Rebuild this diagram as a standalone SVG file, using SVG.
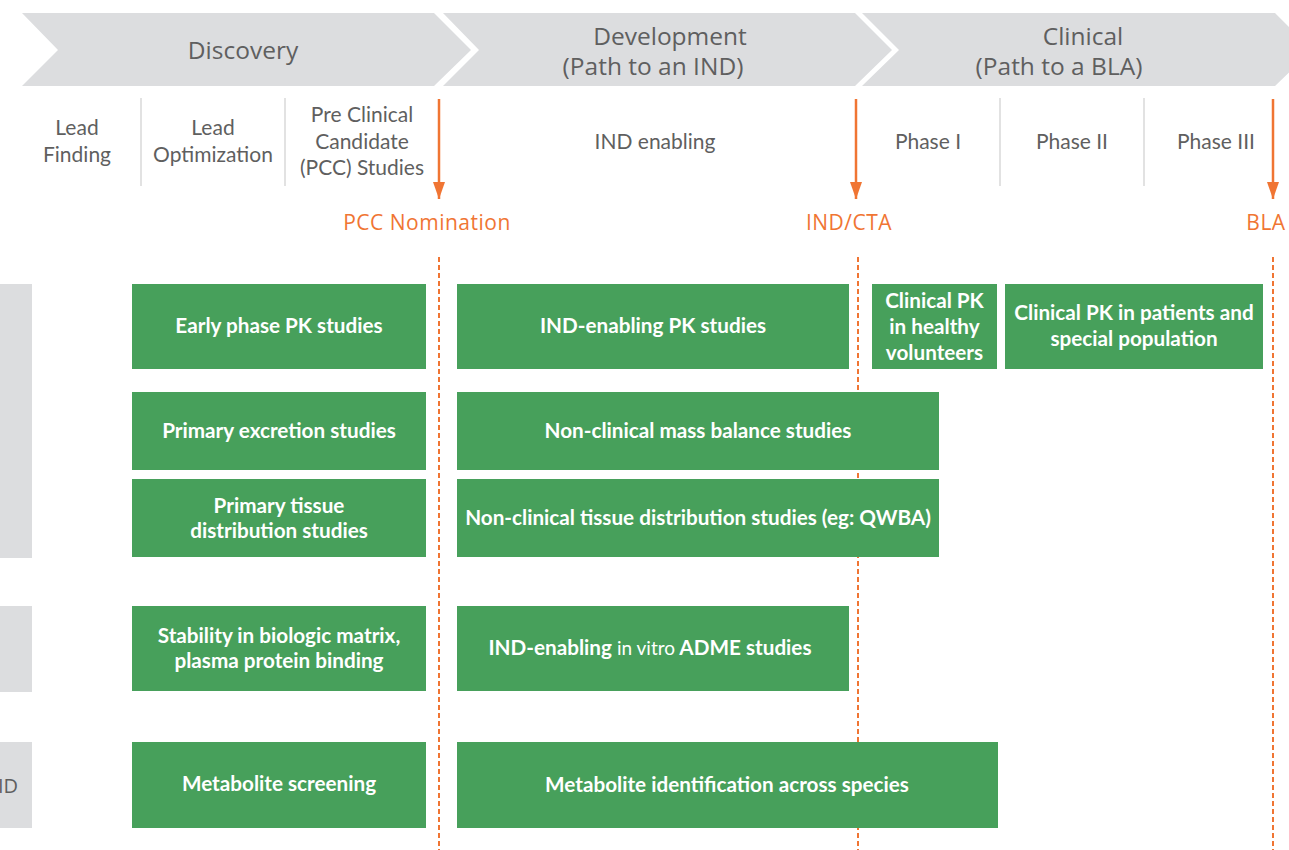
<svg xmlns="http://www.w3.org/2000/svg" width="1289" height="850" viewBox="0 0 1289 850">
<defs>
<marker id="ah" markerUnits="userSpaceOnUse" markerWidth="18" markerHeight="14" refX="17" refY="7" orient="auto" viewBox="0 0 18 14">
<path d="M0,1 L17,7 L0,13 Z" fill="#f07533"/>
</marker>
<style>
.chev{fill:#dcdddf}
.hd{font-family:"Open Sans","Liberation Sans",sans-serif;font-size:24.5px;fill:#5f5f5f;text-anchor:middle;dominant-baseline:central}
.sub{font-family:Lato,"Liberation Sans",sans-serif;font-size:21px;fill:#5f5f5f;text-anchor:middle;dominant-baseline:central}
.div{stroke:#d9d9d9;stroke-width:1.5}
.ms{font-family:"Open Sans","Liberation Sans",sans-serif;font-size:21px;letter-spacing:0.5px;fill:#f07533;text-anchor:middle;dominant-baseline:central}
.arr{stroke:#f07533;stroke-width:2.5;fill:none}
.dash{stroke:#f07533;stroke-width:2;stroke-dasharray:5 3;fill:none}
.gbar{fill:#dcdddf}
.box{fill:#47a05b}
.bt{font-family:Lato,"Liberation Sans",sans-serif;font-weight:bold;font-size:20.7px;fill:#ffffff;text-anchor:middle;dominant-baseline:central}
.it{font-weight:normal;font-size:19px}
.side{font-family:"Open Sans","Liberation Sans",sans-serif;font-size:20px;fill:#5f5f5f;text-anchor:end;dominant-baseline:central}
</style>
</defs>
<rect width="1289" height="850" fill="#ffffff"/>

<g id="header-discovery">
<polygon class="chev" points="22,13 434,13 471,50 434,86 22,86 58,50"/>
<text class="hd" x="243" y="49">Discovery</text>
</g>
<g id="header-development">
<polygon class="chev" points="443,13 855,13 892,50 855,86 443,86 479,50"/>
<text class="hd" x="670" y="35">Development</text>
<text class="hd" x="653" y="65">(Path to an IND)</text>
</g>
<g id="header-clinical">
<polygon class="chev" points="862,13 1275,13 1312,50 1275,86 862,86 899,50"/>
<text class="hd" x="1083" y="35">Clinical</text>
<text class="hd" x="1059" y="65">(Path to a BLA)</text>
</g>

<g id="stages">
<line class="div" x1="141" y1="98" x2="141" y2="186"/>
<line class="div" x1="285" y1="98" x2="285" y2="186"/>
<line class="div" x1="1000" y1="98" x2="1000" y2="186"/>
<line class="div" x1="1144" y1="98" x2="1144" y2="186"/>
<text class="sub" x="77" y="126">Lead</text>
<text class="sub" x="77" y="153">Finding</text>
<text class="sub" x="213" y="126">Lead</text>
<text class="sub" x="213" y="153">Optimization</text>
<text class="sub" x="362" y="113">Pre Clinical</text>
<text class="sub" x="362" y="140">Candidate</text>
<text class="sub" x="362" y="166">(PCC) Studies</text>
<text class="sub" x="655" y="140">IND enabling</text>
<text class="sub" x="928" y="140">Phase I</text>
<text class="sub" x="1072" y="140">Phase II</text>
<text class="sub" x="1216" y="140">Phase III</text>
</g>

<g id="milestones">
<text class="ms" x="427" y="222">PCC Nomination</text>
<text class="ms" x="849" y="222">IND/CTA</text>
<text class="ms" x="1266" y="222">BLA</text>
</g>

<g id="connectors">
<line class="arr" x1="439" y1="99" x2="439" y2="199" marker-end="url(#ah)"/>
<line class="arr" x1="856" y1="99" x2="856" y2="199" marker-end="url(#ah)"/>
<line class="arr" x1="1273" y1="99" x2="1273" y2="199" marker-end="url(#ah)"/>
<line class="dash" x1="439" y1="257" x2="439" y2="850"/>
<line class="dash" x1="858" y1="257" x2="858" y2="850"/>
<line class="dash" x1="1273" y1="257" x2="1273" y2="850"/>
</g>

<g id="side-bars">
<rect class="gbar" x="0" y="284" width="32" height="274"/>
<rect class="gbar" x="0" y="606" width="32" height="86"/>
<rect class="gbar" x="0" y="742" width="32" height="86"/>
<text class="side" x="18" y="785">ID</text>
</g>

<g id="early-pk"><rect class="box" x="132" y="284" width="294" height="85"/><text class="bt" x="279" y="325">Early phase PK studies</text></g>
<g id="ind-pk"><rect class="box" x="457" y="284" width="392" height="85"/><text class="bt" x="653" y="325">IND-enabling PK studies</text></g>
<g id="clin-pk-healthy"><rect class="box" x="872" y="284" width="125" height="85"/><text class="bt" x="934.5" y="300">Clinical PK</text><text class="bt" x="934.5" y="326">in healthy</text><text class="bt" x="934.5" y="352">volunteers</text></g>
<g id="clin-pk-patients"><rect class="box" x="1005" y="284" width="258" height="85"/><text class="bt" x="1134" y="312">Clinical PK in patients and</text><text class="bt" x="1134" y="338">special population</text></g>

<g id="primary-excretion"><rect class="box" x="132" y="392" width="294" height="78"/><text class="bt" x="279" y="430">Primary excretion studies</text></g>
<g id="mass-balance"><rect class="box" x="457" y="392" width="482" height="78"/><text class="bt" x="698" y="430">Non-clinical mass balance studies</text></g>

<g id="primary-tissue"><rect class="box" x="132" y="479" width="294" height="78"/><text class="bt" x="279" y="505">Primary tissue</text><text class="bt" x="279" y="530">distribution studies</text></g>
<g id="tissue-dist"><rect class="box" x="457" y="479" width="482" height="78"/><text class="bt" x="698" y="517">Non-clinical tissue distribution studies (eg: QWBA)</text></g>

<g id="stability"><rect class="box" x="132" y="606" width="294" height="85"/><text class="bt" x="279" y="635">Stability in biologic matrix,</text><text class="bt" x="279" y="660">plasma protein binding</text></g>
<g id="in-vitro-adme"><rect class="box" x="457" y="606" width="392" height="85"/><text class="bt" x="650" y="647">IND-enabling <tspan class="it">in vitro</tspan> ADME studies</text></g>

<g id="metabolite-screening"><rect class="box" x="132" y="742" width="294" height="86"/><text class="bt" x="279" y="783">Metabolite screening</text></g>
<g id="metabolite-id"><rect class="box" x="457" y="742" width="541" height="86"/><text class="bt" x="727" y="784">Metabolite identification across species</text></g>
</svg>
